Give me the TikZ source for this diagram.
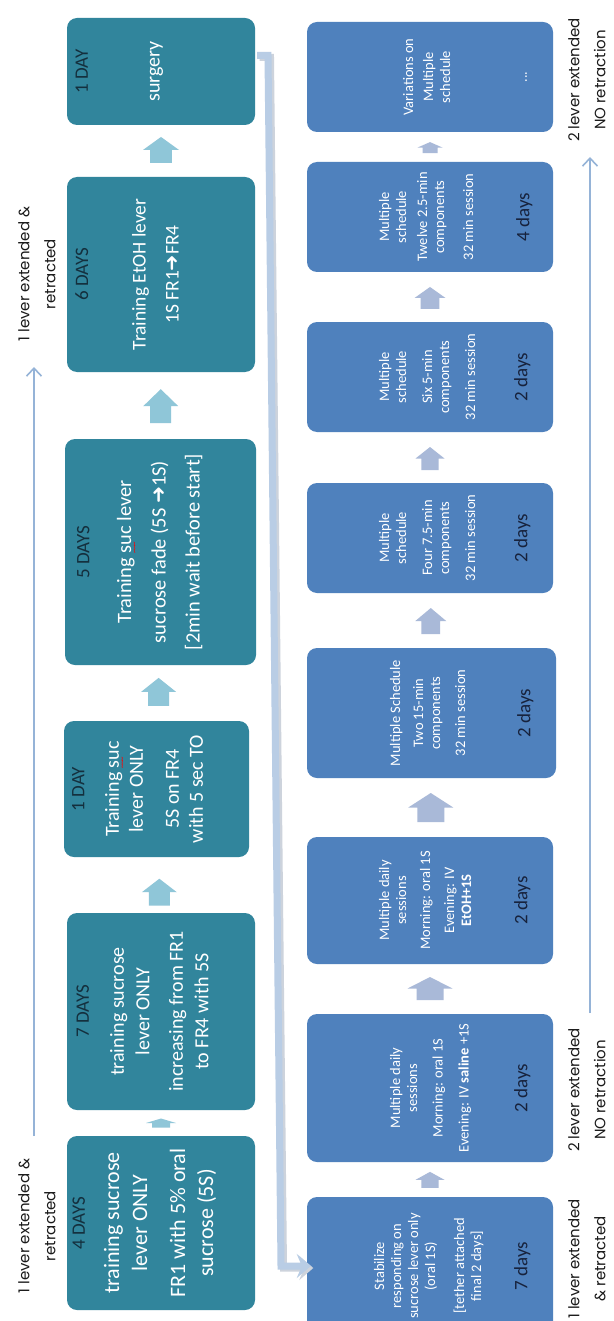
\documentclass[tikz,border=0pt]{standalone}
\usepackage{fontspec}
\setmainfont{Carlito}
\newfontfamily\lblfont{Poppins}
\newfontfamily\arrfont{DejaVu Sans}
\usetikzlibrary{calc,arrows.meta}
\definecolor{tealbox}{HTML}{31859C}
\definecolor{bluebox}{HTML}{4F81BD}
\definecolor{hdrcol}{HTML}{142F3D}
\definecolor{dayscol}{HTML}{17223C}
\definecolor{tarr}{HTML}{8FC6D8}
\definecolor{barr}{HTML}{A9B9D8}
\definecolor{guidec}{HTML}{95B3D7}
\definecolor{connc}{HTML}{B9CDE5}
\definecolor{shadc}{HTML}{CDD3DC}
\definecolor{lblcol}{HTML}{1A1A1A}
\newcommand\spell[1]{\rlap{\raisebox{-6pt}{\color{red}\fontsize{9}{9}\selectfont\textasciitilde\kern-1pt\textasciitilde\kern-1pt\textasciitilde}}#1}
\tikzset{
  tbox/.style={rotate=90, fill=tealbox, rounded corners=10pt, inner sep=0pt},
  bbox/.style={rotate=90, fill=bluebox, rounded corners=10pt, inner sep=0pt},
  hdr/.style={rotate=90, text=hdrcol, font=\fontsize{19}{23}\selectfont, inner sep=0pt},
  tbody/.style={rotate=90, text=white, align=center, inner sep=0pt, anchor=north},
  bbody/.style={rotate=90, text=white, align=center, inner sep=0pt, anchor=north, font=\fontsize{14.5}{17}\selectfont},
  dayslbl/.style={rotate=90, text=dayscol, font=\fontsize{19}{23}\selectfont, inner sep=0pt},
  lbl/.style={rotate=90, align=center, inner sep=0pt, text=lblcol, font=\lblfont\fontsize{15}{26}\selectfont},
  conn/.style={line width=7pt, draw=connc, -{Stealth[length=14pt,width=24pt,inset=5pt]}},
  connshadow/.style={line width=7pt, draw=shadc, -{Stealth[length=14pt,width=24pt,inset=5pt]}},
  guide/.style={line width=1.6pt, draw=guidec, -{Straight Barb[length=8pt,width=15pt]}},
  pics/uparr/.style n args={3}{code={
    \fill[#3] (-0.3*#1,0.5*#2) -- (-0.3*#1,0) -- (-0.5*#1,0) -- (0,-0.5*#2) -- (0.5*#1,0) -- (0.3*#1,0) -- (0.3*#1,0.5*#2) -- cycle;}}
}
\begin{document}
\begin{tikzpicture}[x=1pt,y=-1pt]
\useasboundingbox (0,0) rectangle (613,1321);
\clip (0,0) rectangle (613,1321);
\fill[white] (0,0) rectangle (613,1321);

% teal column
\node[tbox, minimum width=107pt, minimum height=188pt] (surg) at (161,71.5) {};
\node[tbox, minimum width=195pt, minimum height=188pt] (d6) at (161,274.5) {};
\node[tbox, minimum width=226pt, minimum height=191pt] (d5) at (160.5,552) {};
\node[tbox, minimum width=136pt, minimum height=185pt] (d1) at (156.5,789) {};
\node[tbox, minimum width=197pt, minimum height=188pt] (d7) at (161,1011.5) {};
\node[tbox, minimum width=174pt, minimum height=188pt] (d4) at (161,1223) {};

\node[hdr] (h4) at ($(d4.north)+(12,0)$) {4 DAYS};
\node[tbody, font=\fontsize{22}{28}\selectfont] (t4) at ($(d4.north)+(37,0)$) {training sucrose\\lever ONLY\\[10pt]FR1 with 5\% oral\\sucrose (5S)};
\node[hdr] (h7) at ($(d7.north)+(16,0)$) {7 DAYS};
\node[tbody, font=\fontsize{20}{25.5}\selectfont] (t7) at ($(d7.north)+(43,0)$) {training sucrose\\lever ONLY\\[8pt]increasing from FR1\\to FR4 with 5S};
\node[hdr] (h1) at ($(d1.north)+(14.5,0)$) {1 DAY};
\node[tbody, font=\fontsize{20}{24}\selectfont] (t1) at ($(d1.north)+(41,0)$) {Training \spell{suc}\\lever ONLY\\[12pt]5S on FR4\\with 5 sec TO};
\node[hdr] (h5) at ($(d5.north)+(18.5,0)$) {5 DAYS};
\node[tbody, font=\fontsize{20.4}{24}\selectfont] (t5) at ($(d5.north)+(52,0)$) {Training \spell{suc} lever\\[10.5pt]sucrose fade (5S {\arrfont\bfseries ➜}1S)\\[10pt]{[}2min wait before start]};
\node[hdr] (h6) at ($(d6.north)+(15,0)$) {6 DAYS};
\node[tbody, font=\fontsize{19.5}{24}\selectfont] (t6) at ($(d6.north)+(65,0)$) {Training EtOH lever\\[9pt]1S FR1{\arrfont\bfseries ➜}FR4};
\node[hdr] (hs) at ($(surg.north)+(15,0)$) {1 DAY};
\node[tbody, font=\fontsize{20}{24}\selectfont] (ts) at ($(surg.north)+(83,0)$) {surgery};

% teal arrows
\pic at ($(d4.east)!0.5!(d7.west)$) {uparr={30}{9}{tarr}};
\pic at ($(d7.east)!0.37!(d1.west)$) {uparr={35}{27}{tarr}};
\pic at ($(d1.east)!0.52!(d5.west)$) {uparr={35}{28}{tarr}};
\pic at ($(d5.east)!0.49!(d6.west)$) {uparr={35}{34}{tarr}};
\pic at ($(d6.east)!0.52!(surg.west)$) {uparr={36}{26}{tarr}};

% blue column
\node[bbox, minimum width=110pt, minimum height=246pt] (var) at (430,77) {};
\node[bbox, minimum width=110pt, minimum height=246pt] (twelve) at (430,217) {};
\node[bbox, minimum width=110pt, minimum height=246pt] (six) at (430,377) {};
\node[bbox, minimum width=110pt, minimum height=246pt] (four) at (430,538) {};
\node[bbox, minimum width=130pt, minimum height=249pt] (two) at (431.5,713) {};
\node[bbox, minimum width=127pt, minimum height=246pt] (etoh) at (430,900.5) {};
\node[bbox, minimum width=148pt, minimum height=246pt] (sal) at (430,1088) {};
\node[bbox, minimum width=138pt, minimum height=246pt] (stab) at (430,1266) {};

\node[bbody] (bs) at ($(stab.north)+(67,0)$) {Stabilize\\responding on\\sucrose lever only\\(oral 1S)\\[12pt]{[}tether attached\\final 2 days]};
\node[dayslbl] (ds) at ($(stab.south)+(-31,0)$) {7 days};
\node[bbody] (bsal) at ($(sal.north)+(83,0)$) {Multiple daily\\sessions\\[8.5pt]Morning: oral 1S\\[9pt]Evening: IV \textbf{saline} +1S};
\node[dayslbl] (dsal) at ($(sal.south)+(-31,0)$) {2 days};
\node[bbody] (be) at ($(etoh.north)+(72,0)$) {Multiple daily\\sessions\\[7pt]Morning: oral 1S\\[7pt]Evening: IV\\\textbf{EtOH+1S}};
\node[dayslbl] (de) at ($(etoh.south)+(-31,0)$) {2 days};
\node[bbody] (btw) at ($(two.north)+(83,0)$) {Multiple Schedule\\[6pt]Two 15-min\\components\\[8pt]32 min session};
\node[dayslbl] (dtw) at ($(two.south)+(-31,0)$) {2 days};
\node[bbody] (bf) at ($(four.north)+(72,0)$) {Multiple\\schedule\\[9pt]Four 7.5-min\\components\\[9pt]32 min session};
\node[dayslbl] (df) at ($(four.south)+(-31,0)$) {2 days};
\node[bbody] (bsx) at ($(six.north)+(72,0)$) {Multiple\\schedule\\[9pt]Six 5-min\\components\\[9pt]32 min session};
\node[dayslbl] (dsx) at ($(six.south)+(-31,0)$) {2 days};
\node[bbody] (btl) at ($(twelve.north)+(72,0)$) {Multiple\\schedule\\[4pt]Twelve 2.5-min\\components\\[12pt]32 min session};
\node[dayslbl] (dtl) at ($(twelve.south)+(-29,0)$) {4 days};
\node[bbody] (bv) at ($(var.north)+(96,0)$) {Variations on\\[3pt]Multiple\\schedule};
\node[rotate=90, text=white, font=\fontsize{14}{17}\selectfont, inner sep=0pt] (dv) at ($(var.south)+(-27,0)$) {...};

% blue arrows
\pic at ($(stab.east)!0.49!(sal.west)$) {uparr={29}{16}{barr}};
\pic at ($(sal.east)!0.51!(etoh.west)$) {uparr={45}{23}{barr}};
\pic at ($(etoh.east)!0.5!(two.west)$) {uparr={45}{29}{barr}};
\pic at ($(two.east)!0.49!(four.west)$) {uparr={31}{26}{barr}};
\pic at ($(four.east)!0.48!(six.west)$) {uparr={29}{23}{barr}};
\pic at ($(six.east)!0.48!(twelve.west)$) {uparr={31}{22}{barr}};
\pic at ($(twelve.east)!0.48!(var.west)$) {uparr={25}{11}{barr}};

% connector surgery -> stabilize
\coordinate (cA) at (268,55.5);
\coordinate (cB) at (281,1266);
\draw[connshadow, line join=miter, transform canvas={shift={(2.5pt,-2pt)}}] ($(surg.south)+(2,-16)$) -- (cA) -- (cB) -- ($(stab.north)+(4,0)$);
\draw[conn, line join=miter] ($(surg.south)+(2,-16)$) -- (cA) -- (cB) -- ($(stab.north)+(4,0)$);

% side labels
\node[lbl] (ltl) at (37,274) {1 lever extended \&\\retracted};
\node[lbl] (lbl) at (37,1226) {1 lever extended \&\\retracted};
\node[lbl] (lbr) at (587,1259) {1 lever extended\\\& retracted};
\node[lbl] (lmr) at (587,1090) {2 lever extended\\NO retraction};
\node[lbl] (ltr) at (587,80) {2 lever extended\\NO retraction};

% guide lines
\coordinate (gl1) at (34,1136);
\coordinate (gl2) at (34,367);
\coordinate (gr1) at (590,1013);
\coordinate (gr2) at (590,157);
\draw[guide] (gl1) -- (gl2);
\draw[guide] (gr1) -- (gr2);
\end{tikzpicture}
\end{document}
